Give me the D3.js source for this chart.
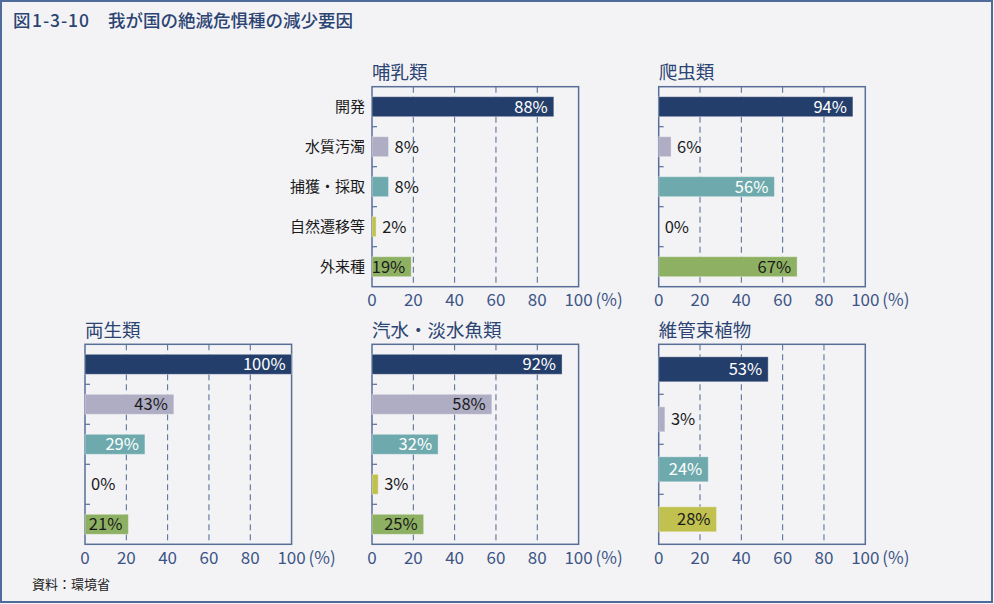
<!DOCTYPE html>
<html><head><meta charset="utf-8">
<script src="https://cdn.jsdelivr.net/npm/d3@7"></script>
<style>
html,body{margin:0;padding:0;background:#f3f3f6;}
svg{display:block;font-family:"Noto Sans CJK JP","Noto Sans",sans-serif;}
</style></head>
<body>
<svg id="chart" width="994" height="604"></svg>
<script>
// ---- data ----
const categories = ["開発", "水質汚濁", "捕獲・採取", "自然遷移等", "外来種"];
const groups = ["哺乳類", "爬虫類", "両生類", "汽水・淡水魚類", "維管束植物"];
const mammals = [88, 8, 8, 2, 19];
const reptiles = [94, 6, 56, 0, 67];
const amphibians = [100, 43, 29, 0, 21];
const fishes = [92, 58, 32, 3, 25];
const plants = [53, 3, 24, 28];
const tickValues = [0, 20, 40, 60, 80, 100];
const titleNum = "図";
const titleId = "1-3-10";
const titleText = "我が国の絶滅危惧種の減少要因";
const sourceText = "資料：環境省";
const unitText = "(%)";

// ---- style ----
const barColors = ["#243e6b", "#aeadc4", "#6eaaad", "#c1c150", "#8db062"];
const insideTextColors = ["#ffffff", "#1a1a1a", "#ffffff", "#1a1a1a", "#1a1a1a"];
const navy = "#2b4472";
const axisColor = "#5a6f98";

const svg = d3.select("#chart");
svg.append("rect").attr("x", 1).attr("y", 1).attr("width", 991).attr("height", 601)
  .attr("fill", "#f3f3f6").attr("stroke", "#4f6b99").attr("stroke-width", 2);

// title
const t = svg.append("text").attr("y", 26.5).attr("fill", navy)
  .attr("font-size", 17.5).attr("font-weight", 500);
t.append("tspan").attr("x", 13).text(titleNum);
t.append("tspan").attr("x", 32).attr("textLength", 57).text(titleId);
t.append("tspan").attr("x", 108).text(titleText);

svg.append("text").attr("x", 32).attr("y", 589).attr("font-size", 13)
  .attr("fill", "#222").text(sourceText);

const panels = [
  {name: groups[0], values: mammals, x: 372, y: 86.7, labels: true},
  {name: groups[1], values: reptiles, x: 658.7, y: 86.7},
  {name: groups[2], values: amphibians, x: 85, y: 344.3},
  {name: groups[3], values: fishes, x: 372, y: 344.3},
  {name: groups[4], values: plants, x: 658.7, y: 344.3}
];
const W = 206.6, H = 200;

panels.forEach(p => {
  const g = svg.append("g").attr("transform", `translate(${p.x},${p.y})`);
  const cats = categories.slice(0, p.values.length);
  const x = d3.scaleLinear().domain([0, 100]).range([0, W]);
  const y = d3.scaleBand().domain(cats).range([0, H]).paddingInner(0.5).paddingOuter(0.25);

  // title
  g.append("text").attr("x", 0).attr("y", -7.7).attr("font-size", 18.5)
    .attr("fill", navy).text(p.name);

  // grid
  g.selectAll("line.grid").data(tickValues.filter(d => d > 0 && d < 100)).join("line")
    .attr("class", "grid").attr("x1", d => x(d)).attr("x2", d => x(d))
    .attr("y1", 0).attr("y2", H).attr("stroke", "#4f6590").attr("stroke-width", 1)
    .attr("stroke-dasharray", "6,4");

  // inner ticks at band boundaries
  g.selectAll("line.btick").data(cats.slice(1)).join("line")
    .attr("class", "btick").attr("x1", 0).attr("x2", 5)
    .attr("y1", d => y(d) - y.step() * y.paddingInner() / 2)
    .attr("y2", d => y(d) - y.step() * y.paddingInner() / 2)
    .attr("stroke", axisColor).attr("stroke-width", 1.2);

  // frame
  g.append("rect").attr("x", 0).attr("y", 0).attr("width", W).attr("height", H)
    .attr("fill", "none").attr("stroke", axisColor).attr("stroke-width", 1.5);

  // bars
  g.selectAll("rect.bar").data(p.values).join("rect").attr("class", "bar")
    .attr("x", x(0)).attr("y", (d, i) => y(cats[i]))
    .attr("width", d => x(d) - x(0)).attr("height", y.bandwidth())
    .attr("fill", (d, i) => barColors[i])
    .attr("stroke", "rgba(255,255,255,0.35)").attr("stroke-width", d => d > 0 ? 1 : 0);

  // value labels
  g.selectAll("text.val").data(p.values).join("text").attr("class", "val")
    .attr("font-size", 16.5)
    .attr("y", (d, i) => y(cats[i]) + y.bandwidth() / 2)
    .attr("dy", "0.36em")
    .attr("x", d => d >= 15 ? x(d) - 6 : x(d) + 6)
    .attr("text-anchor", d => d >= 15 ? "end" : "start")
    .attr("fill", (d, i) => d >= 15 ? insideTextColors[i] : "#1a1a1a")
    .text(d => d + "%");

  // category labels
  if (p.labels) {
    g.selectAll("text.cat").data(cats).join("text").attr("class", "cat")
      .attr("x", -7).attr("y", d => y(d) + y.bandwidth() / 2).attr("dy", "0.36em")
      .attr("text-anchor", "end").attr("font-size", 15).attr("fill", "#1a1a1a")
      .text(d => d);
  }

  // x axis labels
  g.selectAll("text.tick").data(tickValues).join("text").attr("class", "tick")
    .attr("x", d => x(d)).attr("y", H + 19.5).attr("text-anchor", "middle")
    .attr("font-size", 17).attr("fill", "#3d5585").text(d => d);
  g.append("text").attr("x", x(100) + 17).attr("y", H + 19.5)
    .attr("font-size", 17).attr("fill", "#3d5585").text(unitText);
});
</script>
</body></html>
